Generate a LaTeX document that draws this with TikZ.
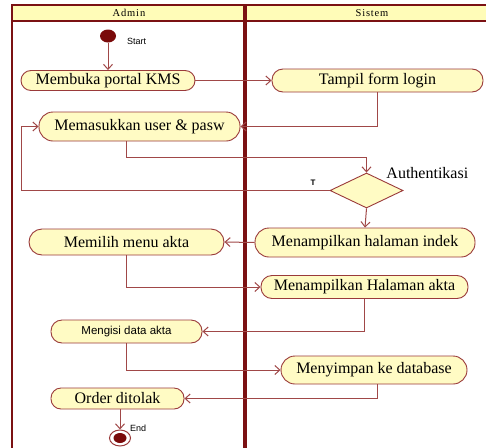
\documentclass[tikz,border=0pt]{standalone}
\usepackage{fontspec}
\setmainfont{Liberation Serif}
\setsansfont{Liberation Sans}
\newfontfamily\headfont[LetterSpace=8]{Liberation Serif}
\usetikzlibrary{arrows.meta,shapes.geometric}
\definecolor{lanecol}{HTML}{7B1113}
\definecolor{headfill}{HTML}{FFFCB8}
\definecolor{actfill}{HTML}{FFFBC4}
\definecolor{actborder}{HTML}{9A3A3A}
\definecolor{flowcol}{HTML}{A04848}
\definecolor{dotcol}{HTML}{7A0A0A}
\begin{document}
\begin{tikzpicture}[x=1pt,y=-1pt,
  act/.style={draw=actborder, fill=actfill, line width=0.9pt, inner sep=0pt,
    font=\fontsize{16}{18}\selectfont},
  flow/.style={draw=flowcol, line width=1pt, -{Straight Barb[length=5pt,width=9pt]}},
  lane/.style={draw=lanecol, line width=2pt},
  note/.style={font=\sffamily\fontsize{9}{10}\selectfont, inner sep=0pt},
  head/.style={font=\headfont\fontsize{10.5}{12}\selectfont, inner sep=0pt}
]
\useasboundingbox (0,0) rectangle (486,447);
\fill[white] (0,0) rectangle (486,447);

% swimlanes
\fill[headfill] (12,5) rectangle (490,21);
\draw[lane] (490,5) -- (12,5) -- (12,450);
\draw[lane] (12,21) -- (490,21);
\draw[lanecol, line width=3.5pt] (245,5) -- (245,450);
\node[head] (hadmin) at (129,13) {Admin};
\node[head] (hsistem) at (372,13) {Sistem};

% start and end
\node[ellipse, fill=dotcol, minimum width=16pt, minimum height=13pt, inner sep=0pt] (start) at (108,36) {};
\node[note, anchor=west] (lstart) at (127,41) {Start};
\node[ellipse, draw=actborder, line width=1pt, fill=white, minimum width=21pt, minimum height=16pt, inner sep=0pt] (endc) at (120,438) {};
\node[ellipse, fill=dotcol, minimum width=13pt, minimum height=10pt, inner sep=0pt] (enddot) at (endc) {};
\node[note, anchor=west] (lend) at (130,428) {End};

% activities
\node[act, minimum width=174pt, minimum height=20pt, rounded corners=10pt] (open) at (108,80.5) {Membuka portal KMS};
\node[act, minimum width=211pt, minimum height=23pt, rounded corners=11pt] (login) at (377.5,80.5) {Tampil form login};
\node[act, minimum width=201pt, minimum height=29pt, rounded corners=14pt] (input) at (139.5,126.5) {Memasukkan user \& pasw};
\node[act, shape=diamond, minimum width=73pt, minimum height=35pt, rounded corners=0pt] (dec) at (366.5,190.5) {};
\node[act, draw=none, fill=none, anchor=west] (lauth) at (386,173) {Authentikasi};
\node[act, minimum width=220pt, minimum height=29pt, rounded corners=14pt] (indek) at (365,242.5) {Menampilkan halaman indek};
\node[act, minimum width=195pt, minimum height=26pt, rounded corners=13pt] (menu) at (126.5,242) {Memilih menu akta};
\node[act, minimum width=207pt, minimum height=23pt, rounded corners=11pt] (akta) at (364.5,287) {Menampilkan Halaman akta};
\node[act, minimum width=151pt, minimum height=23pt, rounded corners=11pt,
  font=\sffamily\fontsize{11.5}{13}\selectfont] (isi) at (126.5,331.5) {Mengisi data akta};
\node[act, minimum width=186pt, minimum height=28pt, rounded corners=14pt] (simpan) at (374,370) {Menyimpan ke database};
\node[act, minimum width=133pt, minimum height=21pt, rounded corners=10pt] (tolak) at (117.5,398.5) {Order ditolak};

% helper points
\coordinate (j1) at (366.5,157);
\coordinate (loopL) at (21,190.5);

% flows
\draw[flow] (start) -- (open.north);
\draw[flow] (open.east) -- (login.west);
\draw[flow] (login.south) |- (input.east);
\draw[flow] (input.south -| isi.south) |- (j1) -- (dec.north);
\draw[flow] (dec.west) -- (loopL) |- (input.west);
\node[font=\sffamily\bfseries\fontsize{8}{9}\selectfont, inner sep=0pt] (lt) at (313,183) {T};
\draw[flow] (dec.south) -- (indek.north);
\draw[flow] (indek.west) -- (menu.east);
\draw[flow] (menu.south) |- (akta.west);
\draw[flow] (akta.south) |- (isi.east);
\draw[flow] (isi.south) |- (simpan.west);
\draw[flow] (simpan.south -| 377,0) |- (tolak.east);
\draw[flow] (tolak.south -| endc.north) -- (endc.north);
\end{tikzpicture}
\end{document}
